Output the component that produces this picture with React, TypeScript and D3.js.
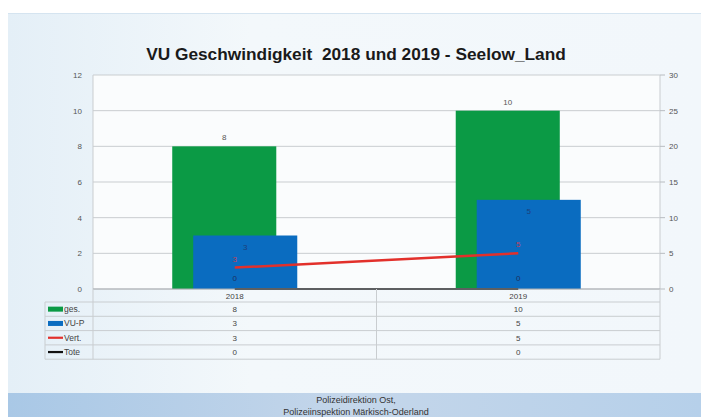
import * as d3 from 'd3'

const categories = ['2018', '2019']
const ges = [8, 10]
const vuP = [3, 5]
const vert = [3, 5]
const tote = [0, 0]
const leftTicks = [0, 2, 4, 6, 8, 10, 12]
const rightTicks = [0, 5, 10, 15, 20, 25, 30]

const W = 701
const H = 417
const plot = { left: 93, right: 660, top: 75, bottom: 289 }
const font = 'Liberation Sans, Arial, sans-serif'

const series = [
  { name: 'ges.', color: '#0b9a45', type: 'bar', values: ges },
  { name: 'VU-P', color: '#0a6cc0', type: 'bar', values: vuP },
  { name: 'Vert.', color: '#e2302b', type: 'line', values: vert },
  { name: 'Tote', color: '#111111', type: 'line', values: tote },
]

export default function App() {
  const x = d3.scaleBand().domain(categories).range([plot.left, plot.right]).padding(0)
  const yL = d3.scaleLinear().domain([0, 12]).range([plot.bottom, plot.top])
  const yR = d3.scaleLinear().domain([0, 30]).range([plot.bottom, plot.top])
  const bw = x.bandwidth() * 0.367
  const shift = x.bandwidth() * 0.037
  const cx = (c: string) => (x(c) || 0) + x.bandwidth() / 2

  const lineR = d3.line<number>()
    .x((_, i) => cx(categories[i]))
    .y(d => yR(d))

  const rowH = 14.3
  const headTop = plot.bottom
  const rowsTop = 302
  const tableLeft = 45

  return (
    <svg width={W} height={H} style={{ position: 'absolute', left: 0, top: 0 }} fontFamily={font}>
      <defs>
        <linearGradient id="panel" x1="0" x2="1" y1="0" y2="0">
          <stop offset="0" stopColor="#e4eff7" />
          <stop offset="0.35" stopColor="#f3f8fb" />
          <stop offset="1" stopColor="#f2f7fb" />
        </linearGradient>
        <linearGradient id="foot" x1="0" x2="1" y1="0" y2="0">
          <stop offset="0" stopColor="#a9c8e6" />
          <stop offset="0.5" stopColor="#c4d6ea" />
          <stop offset="1" stopColor="#b6d0ea" />
        </linearGradient>
      </defs>
      <rect x={0} y={0} width={W} height={H} fill="#ffffff" />
      <rect x={8} y={13} width={W - 8} height={380} fill="url(#panel)" />
      <line x1={8} x2={W} y1={13.5} y2={13.5} stroke="#d5e4f0" />
      <rect x={plot.left} y={plot.top} width={plot.right - plot.left} height={plot.bottom - plot.top} fill="#fafcfd" />

      <text x={356} y={60} textAnchor="middle" fontSize={17.3} fontWeight="bold" fill="#1a1a1a">
        VU Geschwindigkeit{'\u00a0\u00a0'}2018 und 2019 - Seelow_Land
      </text>

      {/* grid + left axis */}
      {leftTicks.map(t => (
        <g key={'l' + t}>
          <line x1={plot.left} x2={plot.right} y1={yL(t)} y2={yL(t)} stroke="#c9cdd0" strokeWidth={1} />
          <text x={82} y={yL(t) + 3} textAnchor="end" fontSize={8} fill="#555">{t}</text>
        </g>
      ))}
      <line x1={plot.left} x2={plot.left} y1={plot.top} y2={plot.bottom} stroke="#c9cdd0" />
      <line x1={plot.right} x2={plot.right} y1={plot.top} y2={plot.bottom} stroke="#c9cdd0" />
      {rightTicks.map(t => (
        <g key={'r' + t}>
          <line x1={plot.right} x2={plot.right + 5} y1={yR(t)} y2={yR(t)} stroke="#b8bcc0" />
          <text x={669} y={yR(t) + 3} fontSize={8} fill="#555">{t}</text>
        </g>
      ))}

      {/* bars */}
      {categories.map((c, i) => (
        <g key={'b' + c}>
          <rect x={cx(c) - shift - bw / 2} y={yL(ges[i])} width={bw} height={yL(0) - yL(ges[i])} fill={series[0].color} />
          <text x={cx(c) - shift} y={yL(ges[i]) - 6} textAnchor="middle" fontSize={8} fill="#555">{ges[i]}</text>
          <rect x={cx(c) + shift - bw / 2} y={yL(vuP[i])} width={bw} height={yL(0) - yL(vuP[i])} fill={series[1].color} />
          <text x={cx(c) + shift} y={yL(vuP[i]) + 14} textAnchor="middle" fontSize={8} fill="#1c3f7a">{vuP[i]}</text>
        </g>
      ))}

      {/* lines on secondary axis */}
      <path d={lineR(tote) || ''} fill="none" stroke={series[3].color} strokeWidth={2} />
      <path d={lineR(vert) || ''} fill="none" stroke={series[2].color} strokeWidth={2.5} />
      {categories.map((c, i) => (
        <g key={'lbl' + c}>
          <text x={cx(c)} y={yR(vert[i]) - 6} textAnchor="middle" fontSize={8} fill="#c0405a">{vert[i]}</text>
          <text x={cx(c)} y={yR(tote[i]) - 8} textAnchor="middle" fontSize={8} fill="#1c3060">{tote[i]}</text>
        </g>
      ))}
      <line x1={plot.left} x2={plot.right} y1={plot.bottom} y2={plot.bottom} stroke="#aaaeb2" />

      {/* data table */}
      {categories.map(c => (
        <text key={'h' + c} x={cx(c)} y={headTop + 10} textAnchor="middle" fontSize={8} fill="#444">{c}</text>
      ))}
      {d3.range(series.length + 1).map(k => (
        <line key={'hl' + k} x1={tableLeft} x2={plot.right} y1={rowsTop + k * rowH} y2={rowsTop + k * rowH} stroke="#c9cdd0" />
      ))}
      <line x1={tableLeft} x2={tableLeft} y1={rowsTop} y2={rowsTop + series.length * rowH} stroke="#c9cdd0" />
      {[plot.left, ...categories.map(c => (x(c) || 0) + x.bandwidth())].map((vx, k) => (
        <line key={'vl' + k} x1={vx} x2={vx} y1={plot.bottom} y2={rowsTop + series.length * rowH} stroke="#c9cdd0" />
      ))}
      {series.map((s, k) => {
        const y0 = rowsTop + k * rowH
        const mid = y0 + rowH / 2
        return (
          <g key={'row' + s.name}>
            {s.type === 'bar'
              ? <rect x={48} y={mid - 2.5} width={15} height={5} fill={s.color} />
              : <line x1={48} x2={63} y1={mid} y2={mid} stroke={s.color} strokeWidth={2.2} />}
            <text x={64} y={mid + 3} fontSize={8.5} fill="#444">{s.name}</text>
            {categories.map((c, i) => (
              <text key={c} x={cx(c)} y={mid + 3} textAnchor="middle" fontSize={8} fill="#444">{s.values[i]}</text>
            ))}
          </g>
        )
      })}

      {/* footer */}
      <rect x={8} y={393} width={W - 8} height={24} fill="url(#foot)" />
      <text x={356} y={403} textAnchor="middle" fontSize={9} fill="#333">Polizeidirektion Ost,</text>
      <text x={356} y={414.5} textAnchor="middle" fontSize={9} fill="#333">Polizeiinspektion Märkisch-Oderland</text>
    </svg>
  )
}
